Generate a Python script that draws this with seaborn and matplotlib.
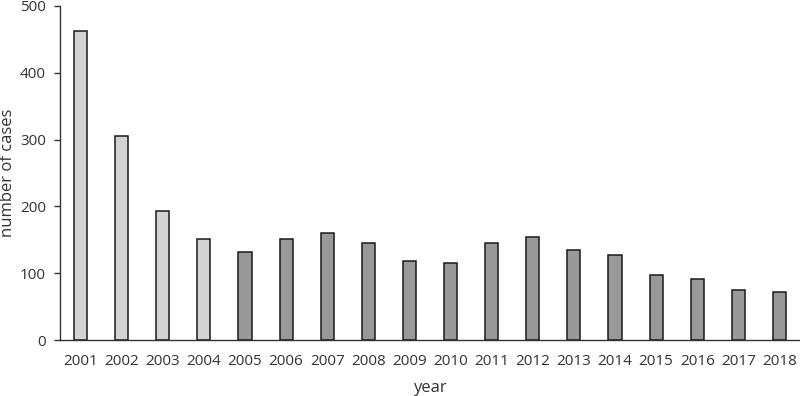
import pandas as pd
import matplotlib
matplotlib.use("Agg")
import matplotlib.pyplot as plt
import seaborn as sns

years = [str(y) for y in range(2001, 2019)]
cases = [462, 306, 193, 152, 132, 152, 160, 145, 119, 116, 145, 154, 135, 127, 97, 91, 75, 72]
period = ["early"] * 4 + ["late"] * 14

df = pd.DataFrame({"year": years, "cases": cases, "period": period})

sns.set_style("white")
plt.rcParams["font.family"] = ["Open Sans", "DejaVu Sans"]

fig = plt.figure(figsize=(8, 3.96), dpi=100)
ax = fig.add_axes([0.075, 0.141, 0.925, 0.844])

sns.barplot(data=df, x="year", y="cases", hue="period", dodge=False, width=0.32,
            palette={"early": "#d3d3d3", "late": "#999999"}, legend=False,
            edgecolor="#1a1a1a", linewidth=1.1, saturation=1, ax=ax)

ax.set_xlim(-0.5, 17.5)
ax.set_ylim(0, 500)
ax.set_yticks([0, 100, 200, 300, 400, 500])
ax.set_xlabel("year", fontsize=12, color="#333333", labelpad=8)
ax.set_ylabel("number of cases", fontsize=12, color="#333333")
ax.yaxis.set_label_coords(-0.059, 0.5)
ax.tick_params(axis="x", length=0, pad=10, labelsize=11, colors="#333333")
ax.tick_params(axis="y", length=4, width=1, pad=6, labelsize=11, colors="#333333", left=True)
for s in ["top", "right"]:
    ax.spines[s].set_visible(False)
for s in ["left", "bottom"]:
    ax.spines[s].set_color("#333333")
    ax.spines[s].set_linewidth(1)

fig.savefig("out.png", dpi=100)
